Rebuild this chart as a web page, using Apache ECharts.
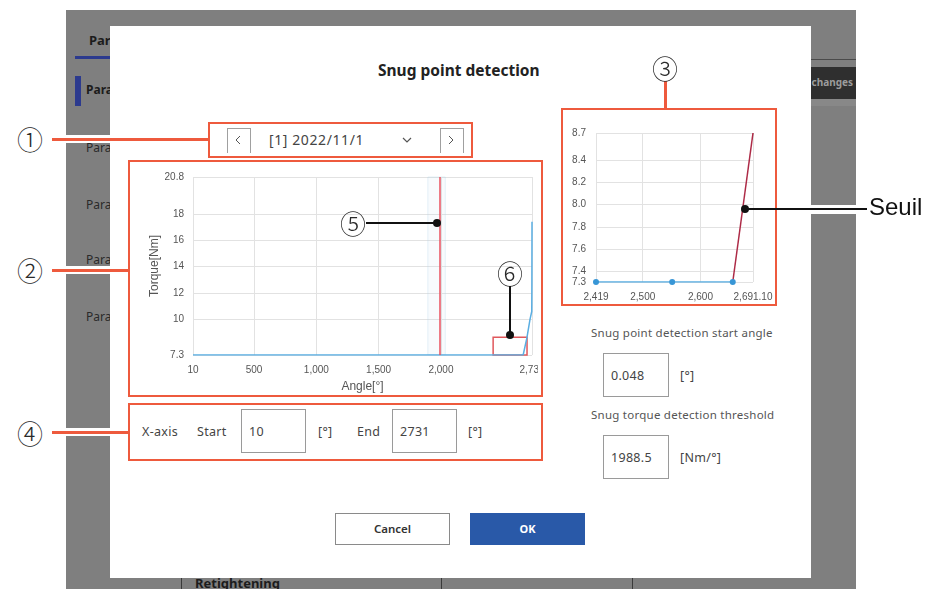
<!DOCTYPE html>
<html>
<head>
<meta charset="utf-8">
<script src="https://cdn.jsdelivr.net/npm/echarts@6/dist/echarts.min.js"></script>
<style>
  body { margin: 0; width: 929px; height: 589px; position: relative; overflow: hidden; background: #fff;
         font-family: "Noto Sans", sans-serif; color: #333; }
  .a { position: absolute; }
  .t { position: absolute; white-space: nowrap; }
  .orange { position: absolute; border: 2.5px solid #ee5a3d; box-sizing: border-box; }
  .num { position: absolute; width: 28px; height: 28px; line-height: 28px; text-align: center;
         font-family: "Noto Sans CJK JP", sans-serif; font-size: 26px; font-weight: 300; color: #2a2a2a; }
  .input { position: absolute; border: 1px solid #9a9a9a; box-sizing: border-box; background: #fff;
           font-size: 12.5px; color: #444; padding-left: 7px; letter-spacing: 0.3px; }
  .side { position: absolute; left: 86px; font-size: 12px; color: #2a2a2a; }
  .lbl { position: absolute; white-space: nowrap; font-size: 12.5px; color: #444; letter-spacing: 0.3px; }
</style>
</head>
<body>
<!-- background page (grey overlay) -->
<div class="a" style="left:66px;top:10px;width:790px;height:579px;background:#7f7f7f"></div>
<div class="t" style="left:89px;top:31px;font-size:13px;font-weight:bold;color:#1c1c1c">Par</div>
<div class="a" style="left:75px;top:56px;width:35px;height:3px;background:#2c3a8e"></div>
<div class="a" style="left:75px;top:76px;width:6px;height:30px;background:#2c3a8e"></div>
<div class="side" style="top:81px;font-weight:bold;color:#1c1c1c">Para</div>
<div class="side" style="top:139px">Para</div>
<div class="side" style="top:196px">Para</div>
<div class="side" style="top:251px">Para</div>
<div class="side" style="top:308px">Para</div>
<div class="a" style="left:811px;top:59px;width:45px;height:1px;background:#4a4a4a"></div>
<div class="a" style="left:811px;top:67px;width:45px;height:32px;background:#2f2f2f;overflow:hidden">
  <div class="t" style="right:3px;top:8px;font-size:10px;font-weight:bold;color:#9c9c9c">Save changes</div>
</div>
<div class="a" style="left:811px;top:99px;width:45px;height:7px;background:#888"></div>
<div class="t" style="left:195px;top:574px;font-size:13px;font-weight:bold;color:#1c1c1c">Retightening</div>
<div class="a" style="left:181px;top:578px;width:1px;height:11px;background:#3a3a3a"></div>
<div class="a" style="left:441px;top:578px;width:1px;height:11px;background:#3a3a3a"></div>
<div class="a" style="left:632px;top:578px;width:1px;height:11px;background:#3a3a3a"></div>

<!-- modal -->
<div class="a" style="left:110px;top:26px;width:701px;height:552px;background:#fff"></div>
<div class="t" style="left:378px;top:59px;font-size:15.5px;font-weight:bold;color:#222">Snug point detection</div>

<!-- record selector -->
<div class="a" style="left:227px;top:128px;width:22px;height:24px;border:1px solid #a0a0a0;border-bottom:none"></div>
<svg class="a" style="left:0;top:0" width="929" height="589">
  <polyline points="240,136 236,140 240,144" fill="none" stroke="#555" stroke-width="1"/>
  <polyline points="449,136 453,140 449,144" fill="none" stroke="#555" stroke-width="1"/>
  <polyline points="403,138 407,142 411,138" fill="none" stroke="#555" stroke-width="1.2"/>
</svg>
<div class="a" style="left:440px;top:128px;width:22px;height:24px;border:1px solid #a0a0a0;border-bottom:none"></div>
<div class="t" style="left:269px;top:130px;font-size:14px;letter-spacing:0.6px;color:#444">[1] 2022/11/1</div>

<!-- charts -->
<div id="main" class="a" style="left:131px;top:163px;width:407px;height:232px"></div>
<div id="zoom" class="a" style="left:564px;top:111px;width:211px;height:193px"></div>

<!-- x-axis range -->
<div class="lbl" style="left:142px;top:423px">X-axis</div>
<div class="lbl" style="left:197px;top:423px">Start</div>
<div class="input" style="left:241px;top:409px;width:65px;height:44px;line-height:44px">10</div>
<div class="lbl" style="left:318px;top:423px">[°]</div>
<div class="lbl" style="left:357px;top:423px">End</div>
<div class="input" style="left:392px;top:409px;width:65px;height:44px;line-height:44px">2731</div>
<div class="lbl" style="left:468px;top:423px">[°]</div>

<!-- detection parameters -->
<div class="t" style="left:591px;top:325px;font-size:11.5px;letter-spacing:0.25px;color:#555">Snug point detection start angle</div>
<div class="input" style="left:603px;top:353px;width:66px;height:44px;line-height:44px">0.048</div>
<div class="lbl" style="left:680px;top:367px">[°]</div>
<div class="t" style="left:591px;top:407px;font-size:11.5px;letter-spacing:0.25px;color:#555">Snug torque detection threshold</div>
<div class="input" style="left:603px;top:435px;width:66px;height:44px;line-height:44px">1988.5</div>
<div class="lbl" style="left:680px;top:449px">[Nm/°]</div>

<!-- buttons -->
<div class="a" style="left:335px;top:513px;width:115px;height:32px;border:1px solid #8a8a8a;box-sizing:border-box;text-align:center;line-height:30px;font-size:11.5px;font-weight:600;color:#333">Cancel</div>
<div class="a" style="left:470px;top:513px;width:115px;height:32px;background:#2959a8;text-align:center;line-height:32px;font-size:11px;font-weight:bold;color:#fff">OK</div>

<!-- callouts -->
<div class="orange" style="left:208px;top:122px;width:265px;height:36px"></div>
<div class="orange" style="left:128px;top:160px;width:415px;height:237px"></div>
<div class="orange" style="left:561px;top:108px;width:216px;height:198px"></div>
<div class="orange" style="left:128px;top:403px;width:415px;height:58px"></div>

<div class="a" style="left:52px;top:135px;width:156px;height:8px;background:#fff"></div>
<div class="a" style="left:52px;top:138px;width:156px;height:2.5px;background:#ee5a3d"></div>
<div class="a" style="left:52px;top:266px;width:76px;height:8px;background:#fff"></div>
<div class="a" style="left:52px;top:269px;width:76px;height:2.5px;background:#ee5a3d"></div>
<div class="a" style="left:52px;top:428px;width:76px;height:8px;background:#fff"></div>
<div class="a" style="left:52px;top:431px;width:76px;height:2.5px;background:#ee5a3d"></div>
<div class="a" style="left:664px;top:81px;width:2.5px;height:27px;background:#ee5a3d"></div>

<div class="num" style="left:16px;top:125px">①</div>
<div class="num" style="left:16px;top:256px">②</div>
<div class="num" style="left:651px;top:54px">③</div>
<div class="num" style="left:16px;top:419px">④</div>
<div class="num" style="left:339px;top:209px">⑤</div>
<div class="num" style="left:496px;top:259px">⑥</div>

<div class="a" style="left:366px;top:222px;width:71px;height:2px;background:#111"></div>
<div class="a" style="left:433px;top:219px;width:8px;height:8px;border-radius:50%;background:#111"></div>
<div class="a" style="left:509px;top:286px;width:2px;height:49px;background:#111"></div>
<div class="a" style="left:506px;top:331px;width:8px;height:8px;border-radius:50%;background:#111"></div>
<div class="a" style="left:811px;top:205px;width:45px;height:9px;background:#fff"></div>
<div class="a" style="left:745px;top:208px;width:122px;height:2px;background:#111"></div>
<div class="a" style="left:741px;top:205px;width:8px;height:8px;border-radius:50%;background:#111"></div>
<div class="t" style="left:869px;top:193px;font-family:'Liberation Sans',sans-serif;font-size:24px;color:#111">Seuil</div>

<script>
// main torque/angle curve
const angleTicks = [10, 500, 1000, 1500, 2000, 2731];
const torqueTicks = [7.3, 10, 12, 14, 16, 18, 20.8];
const torqueCurve = [
  [10, 7.3], [2419, 7.3], [2551, 7.3], [2660, 7.3],
  [2690, 8.6], [2715, 10.0], [2729, 10.6], [2730, 12.5], [2731, 17.4]
];
const snugAngle = 1988.5;
const candidateBand = [1895, 2035];
const zoomWindow = [[2419, 7.3], [2691.1, 8.65]];

// zoomed view
const zoomAngleTicks = [2419, 2500, 2600, 2691.1];
const zoomTorqueTicks = [7.3, 7.4, 7.6, 7.8, 8.0, 8.2, 8.4, 8.65];
const zoomPoints = [[2419, 7.3], [2551, 7.3], [2656, 7.3]];
const seuilLine = [[2656, 7.3], [2691.1, 8.65]];

const chartFont = '"Liberation Sans", Arial, sans-serif';
const colors = {
  label: '#555',
  grid: '#e2e2e2',
  curve: '#5aaee2',
  dots: '#3896d6',
  snug: '#e9505e',
  seuil: '#ad2a46',
  box: '#e0585c',
}

const valueAxis = (ticks, extra) => Object.assign({
  type: 'value',
  min: ticks[0],
  max: ticks[ticks.length - 1],
  axisLine: { show: false },
  axisTick: { show: false, customValues: ticks },
  splitLine: { lineStyle: { color: colors.grid } },
}, extra)

const mainChart = echarts.init(document.getElementById('main'))
mainChart.setOption({
  animation: false,
  textStyle: { fontFamily: chartFont },
  grid: { left: 62, right: 6, top: 14, bottom: 40, outerBoundsMode: 'none' },
  xAxis: valueAxis(angleTicks, {
    name: 'Angle[°]',
    nameLocation: 'middle',
    nameGap: 26,
    nameTextStyle: { fontSize: 12, color: colors.label },
    axisLabel: { customValues: angleTicks, fontSize: 10, color: colors.label, margin: 10 },
  }),
  yAxis: valueAxis(torqueTicks, {
    name: 'Torque[Nm]',
    nameLocation: 'middle',
    nameGap: 32,
    nameMoveOverlap: false,
    nameTextStyle: { fontSize: 12, color: colors.label },
    axisLabel: { customValues: torqueTicks, fontSize: 10, color: colors.label, margin: 9 },
  }),
  series: [{
    type: 'line',
    data: torqueCurve,
    showSymbol: false,
    lineStyle: { color: colors.curve, width: 1.5 },
    markArea: {
      silent: true,
      data: [
        [{ xAxis: candidateBand[0], itemStyle: { color: 'rgba(200,225,240,0.12)', borderColor: 'rgba(180,212,232,0.35)', borderWidth: 1 } },
         { xAxis: candidateBand[1] }],
        [{ coord: zoomWindow[0], itemStyle: { color: 'rgba(0,0,0,0)', borderColor: colors.box, borderWidth: 1.5 } },
         { coord: zoomWindow[1] }],
      ],
    },
    markLine: {
      silent: true,
      symbol: 'none',
      label: { show: false },
      lineStyle: { color: colors.snug, width: 1.5, type: 'solid' },
      data: [{ xAxis: snugAngle }],
    },
  }],
})

const zoomChart = echarts.init(document.getElementById('zoom'))
zoomChart.setOption({
  animation: false,
  textStyle: { fontFamily: chartFont },
  grid: { left: 32, right: 22, top: 22, bottom: 22, outerBoundsMode: 'none' },
  xAxis: valueAxis(zoomAngleTicks, {
    axisLabel: {
      customValues: zoomAngleTicks, fontSize: 10, color: colors.label, margin: 10,
      formatter: (v) => echarts.format.addCommas(Number.isInteger(v) ? v : v.toFixed(2)),
    },
  }),
  yAxis: valueAxis(zoomTorqueTicks, {
    axisLabel: {
      customValues: zoomTorqueTicks, fontSize: 10, color: colors.label, margin: 10,
      formatter: (v) => v.toFixed(1),
    },
  }),
  series: [
    {
      type: 'line',
      data: zoomPoints,
      symbol: 'circle',
      symbolSize: 6,
      itemStyle: { color: colors.dots },
      lineStyle: { color: colors.curve, width: 1.5 },
    },
    {
      type: 'line',
      data: seuilLine,
      showSymbol: false,
      lineStyle: { color: colors.seuil, width: 1.5 },
    },
  ],
})
</script>
</body>
</html>
